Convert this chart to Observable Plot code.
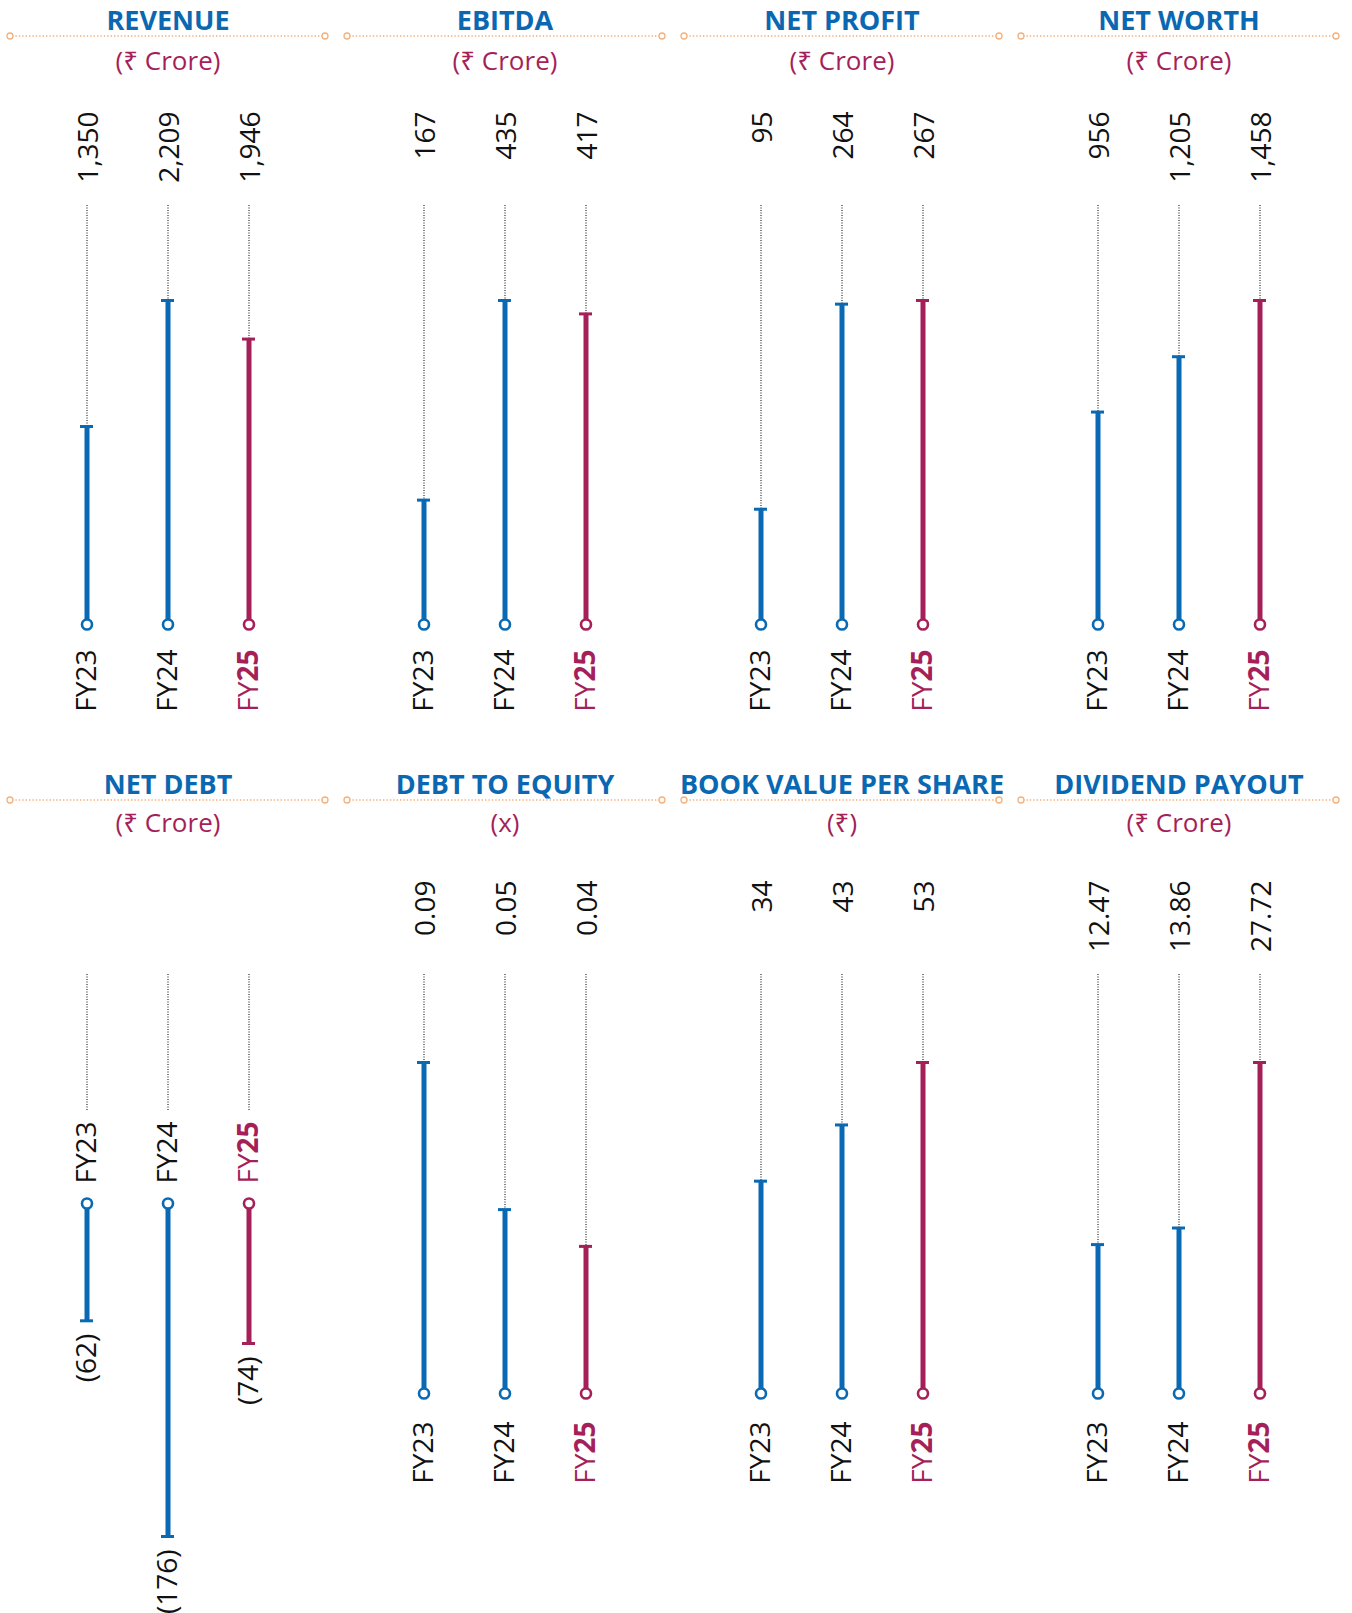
<!DOCTYPE html>
<html>
<head>
<meta charset="utf-8">
<script src="https://cdn.jsdelivr.net/npm/d3@7"></script>
<script src="https://cdn.jsdelivr.net/npm/@observablehq/plot@0.6"></script>
<style>
  body { margin: 0; background: #fff; }
  #root { position: relative; width: 1352px; height: 1613px; font-family: "Open Sans", "Noto Sans", sans-serif; }
  .panel { position: absolute; }
  .panel svg { display: block; overflow: visible; max-width: none; }
</style>
</head>
<body>
<div id="root"></div>
<script>
// ---- data ----
const years = ["FY23", "FY24", "FY25"];
const revenue = [1350, 2209, 1946];
const ebitda = [167, 435, 417];
const netProfit = [95, 264, 267];
const netWorth = [956, 1205, 1458];
const netDebt = [-62, -176, -74];
const debtToEquity = [0.09, 0.05, 0.04];
const bookValue = [34, 43, 53];
const dividendPayout = [12.47, 13.86, 27.72];

const titles = ["REVENUE", "EBITDA", "NET PROFIT", "NET WORTH",
                "NET DEBT", "DEBT TO EQUITY", "BOOK VALUE PER SHARE", "DIVIDEND PAYOUT"];
const units = ["(₹ Crore)", "(₹ Crore)", "(₹ Crore)", "(₹ Crore)",
               "(₹ Crore)", "(x)", "(₹)", "(₹ Crore)"];
const seriesList = [revenue, ebitda, netProfit, netWorth, netDebt, debtToEquity, bookValue, dividendPayout];
const formatSpecs = [",", ",", ",", ",", "paren", ".2f", "d", ".2f"];

// ---- styling ----
const BLUE = "#0a69b3";
const CRIMSON = "#a51f59";
const TITLE_BLUE = "#0a68b2";
const ORANGE = "#f5b07a";
const FONT = "'Open Sans', 'Noto Sans', sans-serif";

const root = document.getElementById("root");

function makeFormat(spec) {
  if (spec === "paren") return v => "(" + d3.format(",")(Math.abs(v)) + ")";
  return d3.format(spec);
}

seriesList.forEach((vals, i) => {
  const col = i % 4, row = Math.floor(i / 4);
  const left = 2 + 337 * col;
  const top = row === 0 ? 0 : 769;
  const H = row === 0 ? 769 : 844;
  const hdr = row === 0 ? {title: 21, line: 36, sub: 61} : {title: 16, line: 31, sub: 54};
  const fmt = makeFormat(formatSpecs[i]);
  const neg = vals.every(v => v < 0);
  const data = years.map((y, j) => ({year: y, value: vals[j], label: fmt(vals[j])}));
  const len = row === 0 ? 324 : 331;
  const base = neg ? 434 : 624;
  const ext = neg ? d3.min(vals) : d3.max(vals);
  const yRange = neg ? [base, base + 333] : [base, base - len];
  const MT = 205;

  const marks = [
    // header texts
    Plot.text([titles[i]], {frameAnchor: "top", lineAnchor: "middle", dy: hdr.title - MT, fontSize: 27, fontWeight: 700,
      fill: TITLE_BLUE, text: d => d, letterSpacing: titles[i].length > 16 ? "-1px" : "-0.2px"}),
    Plot.text([units[i]], {frameAnchor: "top", lineAnchor: "middle", dy: hdr.sub - MT, fontSize: 26, fill: CRIMSON, text: d => d}),
    // dotted guide lines
    Plot.ruleX(data, {x: "year", stroke: "#000", strokeWidth: 1, strokeDasharray: "1,1.5",
      insetBottom: neg ? H - 341 : H - base}),
    // bars
    Plot.ruleX(data, {x: "year", y1: d => 0, y2: "value", stroke: "year", strokeWidth: 5}),
    Plot.tickY(data, {x: "year", y: "value", stroke: "year", strokeWidth: 3, insetLeft: 34, insetRight: 34}),
    Plot.dot(data, {x: "year", y: d => 0, r: 5, stroke: "year", strokeWidth: 2.6, fill: "white"}),
  ];

  if (neg) {
    marks.push(
      Plot.text(data, {x: "year", y: "value", text: "label", dy: 13, rotate: -90, textAnchor: "end",
        lineAnchor: "middle", fontSize: 28, fill: "#111"}),
      Plot.text(data.filter(d => d.year !== "FY25"), {x: "year", y: d => 0, text: "year", dy: -20,
        rotate: -90, textAnchor: "start", lineAnchor: "middle", fontSize: 28, fill: "#111"}),
      Plot.text(data.filter(d => d.year === "FY25"), {x: "year", y: d => 0, text: "year", dy: -20,
        rotate: -90, textAnchor: "start", lineAnchor: "middle", fontSize: 28, fill: CRIMSON})
    );
  } else {
    marks.push(
      Plot.text(data, {x: "year", text: "label", frameAnchor: "top", dy: 111 - MT, rotate: -90,
        textAnchor: "end", lineAnchor: "middle", fontSize: 28, fill: "#111", dx: 2}),
      Plot.text(data.filter(d => d.year !== "FY25"), {x: "year", y: d => 0, text: "year",
        dy: row === 0 ? 25 : 28, rotate: -90, textAnchor: "end", lineAnchor: "middle", fontSize: 28, fill: "#111"}),
      Plot.text(data.filter(d => d.year === "FY25"), {x: "year", y: d => 0, text: "year",
        dy: row === 0 ? 25 : 28, rotate: -90, textAnchor: "end", lineAnchor: "middle", fontSize: 28, fill: CRIMSON})
    );
  }

  const chart = Plot.plot({
    width: 337,
    height: H,
    marginTop: MT,
    marginLeft: 0,
    marginRight: 6,
    marginBottom: 0,
    style: {fontFamily: FONT, background: "transparent", overflow: "visible"},
    x: {type: "band", domain: years, range: [43.5, 286.5], padding: 0, axis: null},
    y: {domain: [0, ext], range: yRange, axis: null},
    color: {domain: years, range: [BLUE, BLUE, CRIMSON]},
    marks
  });

  // bold "25" in FY25
  d3.select(chart).selectAll("text").filter(function () { return this.textContent === "FY25"; })
    .each(function () {
      const t = d3.select(this);
      t.text("FY");
      t.append("tspan").attr("font-weight", 700).text("25");
    });

  // header decoration: dotted orange line with end rings
  const svg = d3.select(chart);
  const g = svg.append("g");
  g.append("line").attr("x1", 10).attr("x2", 321).attr("y1", hdr.line).attr("y2", hdr.line)
    .attr("stroke", ORANGE).attr("stroke-width", 1.4).attr("stroke-dasharray", "1.4,2");
  [8, 323].forEach(cx => g.append("circle").attr("cx", cx).attr("cy", hdr.line).attr("r", 3)
    .attr("fill", "white").attr("stroke", ORANGE).attr("stroke-width", 1.3));

  const div = document.createElement("div");
  div.className = "panel";
  div.style.left = left + "px";
  div.style.top = top + "px";
  div.appendChild(chart);
  root.appendChild(div);
});
</script>
</body>
</html>
